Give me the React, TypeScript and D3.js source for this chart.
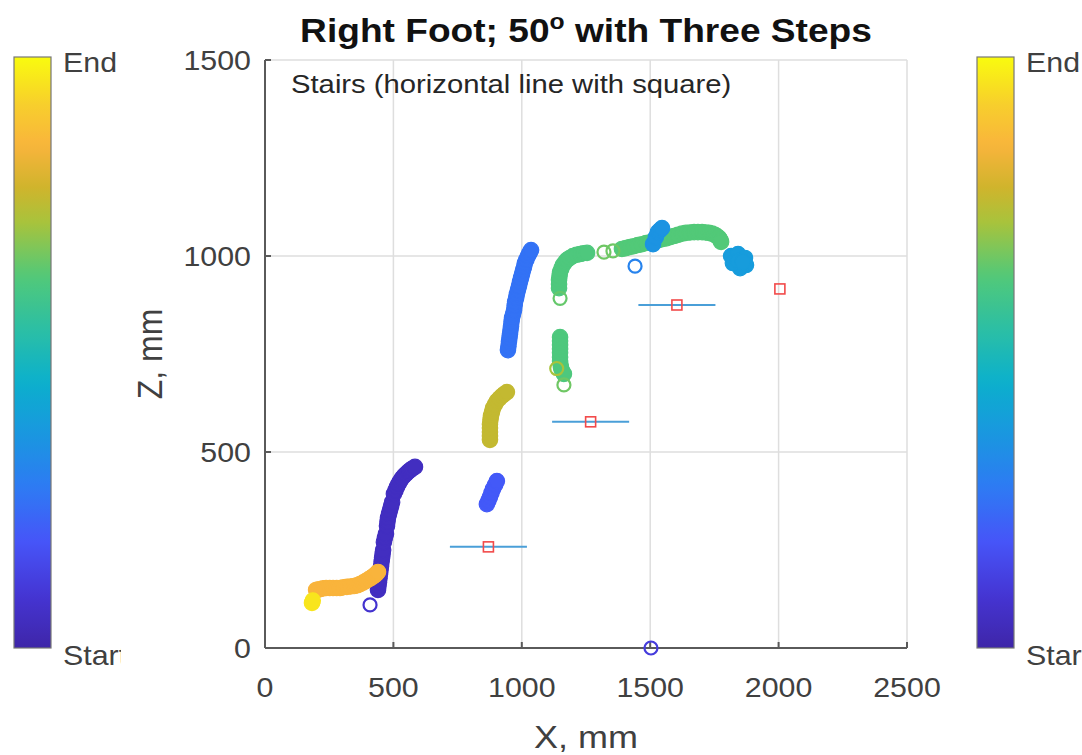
import React from "react";
import * as d3 from "d3";

// ---------- data (mm) ----------
const X_TICKS = [0, 500, 1000, 1500, 2000, 2500];
const Z_TICKS = [0, 500, 1000, 1500];

// parula-like colormap stops
const CMAP_STOPS = [0, 0.09, 0.18, 0.27, 0.36, 0.45, 0.54, 0.63, 0.72, 0.78, 0.85, 0.92, 1];
const CMAP_COLORS = ["#3e26a8", "#4535d4", "#4655f8", "#2e7af4", "#1a96e0", "#0bb0cc", "#2cbfa4", "#52c978", "#a8c33c", "#d0b42c", "#f9b43c", "#f7cf2c", "#f9fb0e"];

// trails (dense markers) : [x, z]
const trailDarkBlue: [number, number][] = [[440,148],[442,158],[444,168],[446,178],[448,189],[450,199],[452,209],[454,220],[456,230],[458,240],[460,250],[463,270],[467,281],[471,291],[475,311],[477,322],[479,332],[483,342],[487,352],[491,362],[495,372],[502,393],[508,402],[514,411],[520,419],[526,426],[533,433],[541,439],[549,444],[557,449],[564,453],[572,457],[584,462]];
const trailSmallBlue: [number, number][] = [[864,367],[870,376],[876,385],[882,396],[888,406],[896,416],[903,426]];
const trailTallBlue: [number, number][] = [[946,760],[948,770],[950,781],[952,791],[954,801],[956,811],[958,821],[960,832],[962,842],[966,852],[970,862],[972,873],[974,883],[978,893],[981,903],[985,913],[989,923],[993,934],[997,944],[1001,954],[1005,964],[1009,973],[1012,982],[1018,991],[1024,1000],[1030,1008],[1036,1015]];
const trailBlueBlob: [number, number][] = [[1511,1030],[1522,1048],[1530,1061],[1538,1066],[1546,1071]];
const trailCyanBlob: [number, number][] = [[1815,1000],[1842,1005],[1869,995],[1873,977],[1850,969],[1822,982],[1842,987],[1860,985]];
const trailGreenLow: [number, number][] = [[1149,793],[1149,783],[1149,773],[1149,763],[1149,753],[1149,742],[1149,732],[1151,723],[1153,714],[1158,706],[1164,699]];
const trailGreenUp: [number, number][] = [[1145,918],[1145,928],[1145,939],[1147,949],[1149,959],[1154,968],[1160,977],[1168,984],[1176,990],[1187,995],[1199,1000],[1213,1003],[1227,1005],[1240,1007],[1254,1008]];
const trailGreenArc: [number, number][] = [[1390,1018],[1405,1020],[1421,1023],[1436,1025],[1452,1028],[1468,1030],[1484,1033],[1500,1035],[1515,1038],[1530,1040],[1546,1043],[1562,1045],[1577,1048],[1592,1051],[1608,1054],[1624,1057],[1639,1059],[1655,1060],[1671,1061],[1686,1061],[1702,1061],[1716,1060],[1729,1059],[1741,1057],[1752,1054],[1761,1050],[1768,1046],[1773,1041],[1776,1036]];
const trailOlive: [number, number][] = [[876,531],[876,541],[876,551],[876,561],[876,571],[878,582],[880,592],[884,602],[888,612],[895,621],[903,630],[913,637],[923,643],[932,648],[942,653]];
const trailOrange: [number, number][] = [[199,148],[206,149],[214,150],[226,152],[238,153],[252,153],[265,153],[279,153],[292,153],[306,155],[319,156],[333,157],[347,158],[359,160],[370,163],[382,167],[393,171],[403,175],[413,179],[421,183],[428,186],[434,190],[440,194]];
const trailYellow: [number, number][] = [[183,115],[186,121]];

// time value (0 = Start, 1 = End) of each trail
const trails: { pts: [number, number][]; t: number }[] = [
  { pts: trailDarkBlue, t: 0.05 },
  { pts: trailSmallBlue, t: 0.19 },
  { pts: trailTallBlue, t: 0.25 },
  { pts: trailGreenLow, t: 0.62 },
  { pts: trailGreenUp, t: 0.62 },
  { pts: trailGreenArc, t: 0.63 },
  { pts: trailBlueBlob, t: 0.35 },
  { pts: trailCyanBlob, t: 0.38 },
  { pts: trailOlive, t: 0.76 },
  { pts: trailOrange, t: 0.85 },
  { pts: trailYellow, t: 0.96 },
];

// single open markers: [x, z, t]
const openMarkers: [number, number, number][] = [
  [409, 110, 0.08],
  [1503, 0, 0.11],
  [1441, 974, 0.3],
  [1136, 713, 0.72],
  [1164, 671, 0.66],
  [1149, 892, 0.65],
  [1320, 1010, 0.66],
  [1355, 1013, 0.66],
];

// stairs: square centre, horizontal line of +/- half width
const stairX = [870, 1268, 1604];
const stairZ = [258, 577, 875];
const stairHalfWidth = 150;
const extraSquare: [number, number] = [2005, 916];

// ---------- layout ----------
const W = 1082, H = 755;
const L = 265, R = 907, T = 60, B = 648;
const SX = 1.125; // horizontal text stretch
const FONT = "'Liberation Sans', Arial, Helvetica, sans-serif";

const x = d3.scaleLinear().domain([0, 2500]).range([L, R]);
const z = d3.scaleLinear().domain([0, 1500]).range([B, T]);
const color = d3.scaleLinear<string>().domain(CMAP_STOPS).range(CMAP_COLORS).interpolate(d3.interpolateRgb);

function SText(props: { x: number; y: number; size: number; anchor?: string; weight?: string; fill?: string; children: React.ReactNode; rotate?: boolean }) {
  const { x: px, y: py, size, anchor = "start", weight = "normal", fill = "#262626", rotate = false } = props;
  const tr = rotate ? `translate(${px},${py}) rotate(-90) scale(1,${SX})` : `translate(${px},${py}) scale(${SX},1)`;
  return (
    <text transform={tr} fontSize={size} fontFamily={FONT} fontWeight={weight} textAnchor={anchor} fill={fill}>
      {props.children}
    </text>
  );
}

function Colorbar({ x0, id, clipRight }: { x0: number; id: string; clipRight: number }) {
  const stops = d3.range(0, 1.0001, 0.02);
  return (
    <g>
      <defs>
        <linearGradient id={id} x1="0" y1="1" x2="0" y2="0">
          {stops.map((s) => (
            <stop key={s} offset={s} stopColor={color(s)} />
          ))}
        </linearGradient>
        <clipPath id={id + "clip"}>
          <rect x={0} y={0} width={clipRight} height={H} />
        </clipPath>
      </defs>
      <rect x={x0} y={57} width={37} height={591} fill={`url(#${id})`} stroke="#777" strokeWidth={1.2} />
      <g clipPath={`url(#${id}clip)`}>
        <SText x={x0 + 49} y={72} size={27} fill="#404040">End</SText>
        <SText x={x0 + 49} y={665} size={27} fill="#404040">Start</SText>
      </g>
    </g>
  );
}

export default function App() {
  return (
    <svg width={W} height={H} style={{ position: "absolute", left: 0, top: 0, display: "block", background: "#fff" }}>
      <rect x={0} y={0} width={W} height={H} fill="#fff" />
      <Colorbar x0={14} id="cbL" clipRight={121} />
      <Colorbar x0={977} id="cbR" clipRight={W} />

      {/* grid */}
      <g stroke="#dedede" strokeWidth={1.5}>
        {X_TICKS.slice(1).map((v) => (
          <line key={"gx" + v} x1={x(v)} x2={x(v)} y1={T} y2={B} />
        ))}
        {Z_TICKS.slice(1).map((v) => (
          <line key={"gz" + v} x1={L} x2={R} y1={z(v)} y2={z(v)} />
        ))}
      </g>
      {/* axes */}
      <g stroke="#5a5a5a" strokeWidth={2}>
        <line x1={L} x2={R} y1={B} y2={B} />
        <line x1={L} x2={L} y1={T} y2={B} />
        {X_TICKS.map((v) => (
          <line key={"tx" + v} x1={x(v)} x2={x(v)} y1={B} y2={B - 6} />
        ))}
        {Z_TICKS.map((v) => (
          <line key={"tz" + v} x1={L} x2={L + 6} y1={z(v)} y2={z(v)} />
        ))}
      </g>
      {X_TICKS.map((v) => (
        <SText key={"lx" + v} x={x(v)} y={697} size={27} anchor="middle" fill="#404040">{v}</SText>
      ))}
      {Z_TICKS.map((v) => (
        <SText key={"lz" + v} x={251} y={z(v) + 10} size={27} anchor="end" fill="#404040">{v}</SText>
      ))}
      <SText x={586} y={748} size={32} anchor="middle" fill="#404040">X, mm</SText>
      <SText x={162} y={354} size={32} anchor="middle" fill="#404040" rotate>Z, mm</SText>

      <text transform={`translate(586,42) scale(${SX},1)`} fontSize={33} fontFamily={FONT} fontWeight="bold" textAnchor="middle" fill="#111">
        Right Foot; 50<tspan fontSize={22} dy={-13}>o</tspan><tspan dy={13}> with Three Steps</tspan>
      </text>
      <SText x={291} y={93} size={26} fill="#262626">Stairs (horizontal line with square)</SText>

      {/* trails */}
      {trails.map((tr, i) => (
        <g key={"tr" + i} fill={color(tr.t)} stroke={color(tr.t)} strokeWidth={1.2}>
          {tr.pts.map((p, j) => (
            <circle key={j} cx={x(p[0])} cy={z(p[1])} r={7.7} />
          ))}
        </g>
      ))}
      {openMarkers.map((m, i) => (
        <circle key={"om" + i} cx={x(m[0])} cy={z(m[1])} r={6.5} fill="none" stroke={color(m[2])} strokeWidth={2.2} />
      ))}

      {/* stairs */}
      {stairX.map((sx, i) => (
        <g key={"st" + i}>
          <line x1={x(sx - stairHalfWidth)} x2={x(sx + stairHalfWidth)} y1={z(stairZ[i])} y2={z(stairZ[i])} stroke="#4a9fd8" strokeWidth={2} />
          <rect x={x(sx) - 5} y={z(stairZ[i]) - 5} width={10} height={10} fill="none" stroke="#f24a4a" strokeWidth={1.6} />
        </g>
      ))}
      <rect x={x(extraSquare[0]) - 5} y={z(extraSquare[1]) - 5} width={10} height={10} fill="none" stroke="#f24a4a" strokeWidth={1.6} />
    </svg>
  );
}
